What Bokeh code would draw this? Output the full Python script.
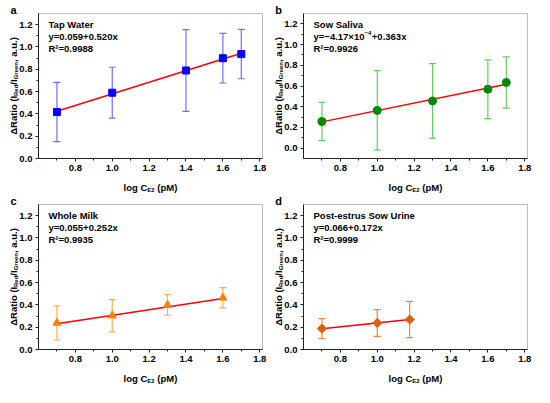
import math
from bokeh.plotting import figure
from bokeh.layouts import column, row
from bokeh.models import Label, FixedTicker, PrintfTickFormatter, Range1d, BoxAnnotation
from bokeh.embed import file_html
from bokeh.resources import INLINE

# ---------------- data ----------------
panel_letters = ["a", "b", "c", "d"]
sample_names = ["Tap Water", "Sow Saliva", "Whole Milk", "Post-estrus Sow Urine"]
equation_parts = [
    ["y=0.059+0.520x"],
    ["y=\u22124.17\u00d710", "\u22124", "+0.363x"],
    ["y=0.055+0.252x"],
    ["y=0.066+0.172x"],
]
r2_texts = ["R\u00b2=0.9988", "R\u00b2=0.9926", "R\u00b2=0.9935", "R\u00b2=0.9999"]

x_tap = [0.7, 1.0, 1.4, 1.6, 1.7]
y_tap = [0.417, 0.590, 0.789, 0.899, 0.936]
e_tap = [0.265, 0.228, 0.366, 0.222, 0.221]

x_saliva = [0.7, 1.0, 1.3, 1.6, 1.7]
y_saliva = [0.257, 0.364, 0.456, 0.569, 0.634]
e_saliva = [0.184, 0.384, 0.360, 0.283, 0.248]

x_milk = [0.7, 1.0, 1.3, 1.6]
y_milk = [0.238, 0.303, 0.399, 0.464]
e_milk = [0.153, 0.145, 0.092, 0.090]

x_urine = [0.7, 1.0, 1.176]
y_urine = [0.187, 0.238, 0.269]
e_urine = [0.089, 0.120, 0.163]

fit_intercepts = [0.059, -4.17e-4, 0.055, 0.066]
fit_slopes = [0.520, 0.363, 0.252, 0.172]

x_major_ticks = [0.8, 1.0, 1.2, 1.4, 1.6, 1.8]
x_minor_ticks = [0.7, 0.9, 1.1, 1.3, 1.5, 1.7]
y_major_ticks = [0.0, 0.2, 0.4, 0.6, 0.8, 1.0, 1.2]
y_minor_ticks = [0.1, 0.3, 0.5, 0.7, 0.9, 1.1]

FONT = "Liberation Sans"
BW, BH = 224, 145          # plot box size in px
XB = (0.6, 1.815)          # x extent of the plot box
Y_TOP = 1.3


def make_panel(i, xs, ys, es, marker, mcolor, ecolor, msize, y_bottom,
               bl, br, bt, bb, angle=0.0):
    W = bl + BW + br
    H = bt + BH + bb
    sx = (XB[1] - XB[0]) / BW
    sy = (Y_TOP - y_bottom) / BH
    xr = (XB[0] - bl * sx, XB[1] + br * sx)
    yr = (y_bottom - bb * sy, Y_TOP + bt * sy)

    p = figure(frame_width=W, frame_height=H,
               x_range=Range1d(*xr), y_range=Range1d(*yr),
               output_backend="svg", toolbar_location=None,
               min_border=0, min_border_left=0, min_border_right=0,
               min_border_top=0, min_border_bottom=0)
    p.background_fill_color = "white"
    p.border_fill_color = "white"
    p.outline_line_color = None
    p.xgrid.visible = False
    p.ygrid.visible = False

    p.xaxis.fixed_location = y_bottom
    p.yaxis.fixed_location = XB[0]
    p.xaxis.bounds = XB
    p.yaxis.bounds = (y_bottom, Y_TOP)
    p.xaxis.ticker = FixedTicker(ticks=x_major_ticks, minor_ticks=x_minor_ticks)
    p.yaxis.ticker = FixedTicker(ticks=y_major_ticks, minor_ticks=y_minor_ticks)
    for ax in (p.xaxis, p.yaxis):
        ax.formatter = PrintfTickFormatter(format="%.1f")
        ax.major_tick_in = 0
        ax.major_tick_out = 3
        ax.minor_tick_in = 0
        ax.minor_tick_out = 2
        ax.axis_line_color = "#222222"
        ax.major_tick_line_color = "#222222"
        ax.minor_tick_line_color = "#222222"
        ax.major_label_text_font = FONT
        ax.major_label_text_font_style = "bold"
        ax.major_label_text_font_size = "9.5px"
        ax.major_label_text_color = "black"
        ax.major_label_standoff = 3

    # plot box frame
    p.add_layout(BoxAnnotation(left=XB[0], right=XB[1], bottom=y_bottom, top=Y_TOP,
                               fill_alpha=0, line_color="#222222", line_width=1))

    # texts positioned in px relative to the plot box (dx right of left, dy below top)
    def lab(dx, dy, text, size, align="left", baseline="middle", ang=0.0):
        p.add_layout(Label(x=XB[0] + dx * sx, y=Y_TOP - dy * sy,
                           text=text, text_font=FONT,
                           text_font_style="bold", text_font_size=f"{size}px",
                           text_color="black", text_align=align,
                           text_baseline=baseline, angle=ang))

    # error bars
    lo = [y - e for y, e in zip(ys, es)]
    hi = [y + e for y, e in zip(ys, es)]
    p.segment(x0=xs, y0=lo, x1=xs, y1=hi, line_color=ecolor, line_width=1.2)
    p.scatter(x=xs + xs, y=lo + hi, marker="dash", size=7,
              line_color=ecolor, line_width=1.2)

    # fit line
    fx = [min(xs), max(xs)]
    fy = [fit_intercepts[i] + fit_slopes[i] * v for v in fx]
    p.line(fx, fy, line_color="#ff0000", line_width=1.5)

    # markers
    p.scatter(x=xs, y=ys, marker=marker, size=msize, angle=angle,
              fill_color=mcolor, line_color=mcolor)

    # panel letter
    lab(-25, -4, panel_letters[i], 11, align="center")

    # inner texts
    lab(10, 11, sample_names[i], 9.5)
    parts = equation_parts[i]
    if len(parts) == 1:
        lab(10, 23, parts[0], 9.5)
    else:
        w0 = 5.366 * 9.5
        lab(10, 23, parts[0], 9.5)
        lab(10 + w0, 19.5, parts[1], 6)
        lab(10 + w0 + 1.14 * 6 + 0.5, 23, parts[2], 9.5)
    lab(10, 35, r2_texts[i], 9.5)

    # x axis label: log C_E2 (pM)
    tot = 2.5 * 9.5 + 1.223 * 6 + 0.278 * 9.5 + 2.11 * 9.5
    x_start = BW / 2 - tot / 2
    lab(x_start, BH + 28.5, "log C", 9.5)
    lab(x_start + 2.5 * 9.5, BH + 31, "E2", 6)
    lab(x_start + 2.5 * 9.5 + 1.223 * 6 + 0.278 * 9.5, BH + 28.5, "(pM)", 9.5)

    # y axis label: ΔRatio (I_Red/I_Green, a.u.)
    widths = [4.089 * 9.5, 1.889 * 6, 0.556 * 9.5, 2.89 * 6, 2.612 * 9.5]
    texts = ["\u0394Ratio (I", "Red", "/I", "Green", ", a.u.)"]
    sizes = [9.5, 6, 9.5, 6, 9.5]
    subs = [False, True, False, True, False]
    total = sum(widths)
    pos = BH / 2 + total / 2
    for t, w, s, sb in zip(texts, widths, sizes, subs):
        lab(-25 + (2.5 if sb else 0), pos, t, s, ang=math.pi / 2)
        pos -= w
    return p


pa = make_panel(0, x_tap, y_tap, e_tap, "square", "#0000ff", "#6f6fff", 7,
                0.0, 38, 5, 13, 36)
pb = make_panel(1, x_saliva, y_saliva, e_saliva, "circle", "#008a00", "#66cc66", 8,
                -0.1, 36, 7, 13, 36)
pc = make_panel(2, x_milk, y_milk, e_milk, "triangle", "#ff8000", "#ffac5e", 8,
                0.0, 38, 5, 10, 38)
pd = make_panel(3, x_urine, y_urine, e_urine, "square", "#e0600a", "#e8884a", 6.5,
                0.0, 36, 7, 10, 38, angle=math.pi / 4)

layout = column(row(pa, pb), row(pc, pd))

with open("out.html", "w") as f:
    f.write(file_html(layout, INLINE))
